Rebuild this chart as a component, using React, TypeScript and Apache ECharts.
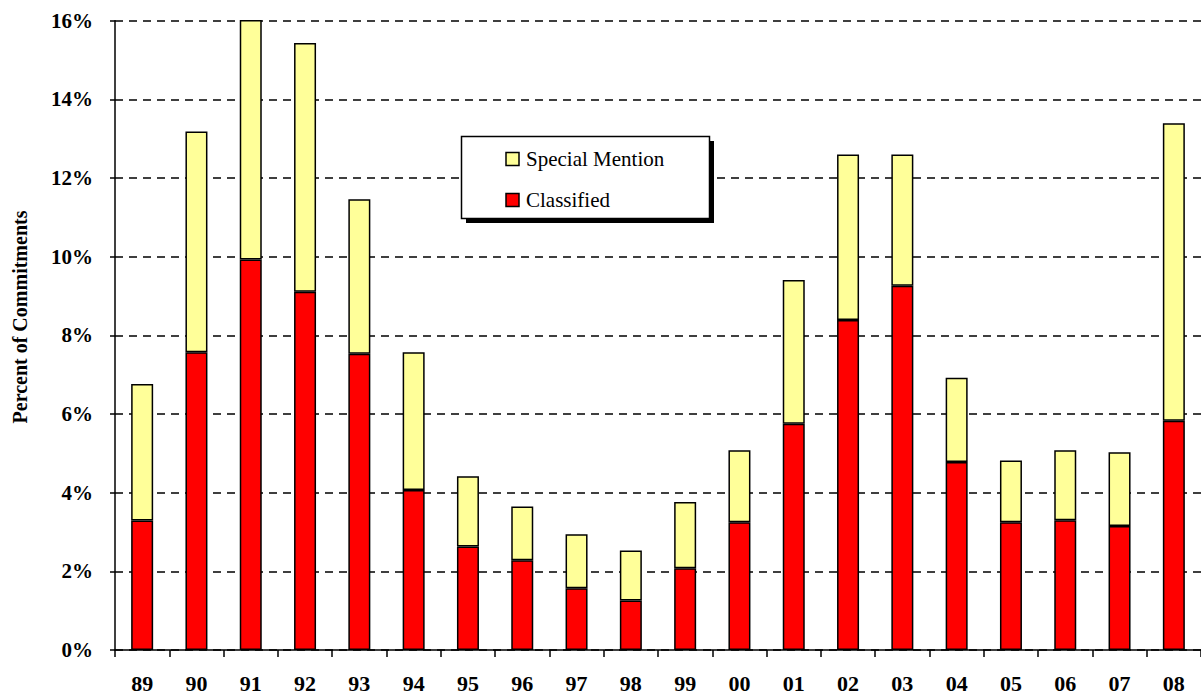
import React, { useEffect, useRef } from "react";
import * as echarts from "echarts";

const categories = ["89","90","91","92","93","94","95","96","97","98","99","00","01","02","03","04","05","06","07","08"];
const classified = [3.29,7.57,9.93,9.11,7.53,4.07,2.63,2.28,1.57,1.26,2.08,3.25,5.75,8.39,9.26,4.78,3.25,3.30,3.15,5.83];
const specialMention = [3.47,5.61,6.10,6.32,3.93,3.50,1.79,1.37,1.37,1.27,1.68,1.83,3.66,4.21,3.34,2.14,1.57,1.78,1.88,7.56];
const yTicks = [0, 2, 4, 6, 8, 10, 12, 14, 16];
const legendItems = ["Special Mention", "Classified"];

const FONT = "Liberation Serif";
const YELLOW = "#FFFF99";
const RED = "#FF0000";

export default function App() {
  const ref = useRef<HTMLDivElement>(null);
  useEffect(() => {
    document.body.style.margin = "0";
    if (!ref.current) return;
    const chart = echarts.init(ref.current, null, { renderer: "svg" });
    const colors = [YELLOW, RED];
    const legendGraphics: any[] = [
      { type: "rect", shape: { x: 466, y: 141, width: 248, height: 82 }, style: { fill: "#000" }, z: 100 },
      { type: "rect", shape: { x: 461.5, y: 136.5, width: 248, height: 82 }, style: { fill: "#fff", stroke: "#000", lineWidth: 1.5 }, z: 101 },
    ];
    legendItems.forEach((name, i) => {
      const cy = i === 0 ? 159 : 200;
      legendGraphics.push({
        type: "rect",
        shape: { x: 506, y: cy - 6.5, width: 13, height: 13 },
        style: { fill: colors[i], stroke: "#000", lineWidth: 1.5 },
        z: 102,
      });
      legendGraphics.push({
        type: "text",
        x: 526,
        y: cy,
        style: { text: name, fontFamily: FONT, fontSize: 21, fill: "#000", verticalAlign: "middle", align: "left" },
        z: 102,
      });
    });
    chart.setOption({
      animation: false,
      backgroundColor: "#fff",
      grid: { left: 115, top: 20.7, bottom: 48, right: -6, containLabel: false },
      xAxis: {
        type: "category",
        data: categories,
        axisLine: { lineStyle: { color: "#000", width: 1.5 } },
        axisTick: { show: true, length: 7, lineStyle: { color: "#000", width: 1.5 }, alignWithLabel: false },
        axisLabel: { color: "#000", fontFamily: FONT, fontWeight: "bold", fontSize: 22, margin: 22 },
      },
      yAxis: {
        type: "value",
        min: yTicks[0],
        max: yTicks[yTicks.length - 1],
        interval: 2,
        axisLine: { show: true, lineStyle: { color: "#000", width: 1.5 } },
        axisTick: { show: true, length: 5, lineStyle: { color: "#000", width: 1.5 } },
        axisLabel: { color: "#000", fontFamily: FONT, fontWeight: "bold", fontSize: 21, margin: 22, formatter: "{value}%" },
        splitLine: { show: true, lineStyle: { color: "#000", type: [8, 6], width: 1.5 } },
      },
      graphic: [
        {
          type: "text",
          x: 20,
          y: 317,
          rotation: Math.PI / 2,
          style: { text: "Percent of Commitments", fontFamily: FONT, fontWeight: "bold", fontSize: 20, fill: "#000", align: "center", verticalAlign: "middle" },
        },
        ...legendGraphics,
      ],
      series: [
        {
          name: "Classified",
          type: "bar",
          stack: "total",
          data: classified,
          barWidth: 22,
          itemStyle: { color: RED, borderColor: "#000", borderWidth: 1.5 },
        },
        {
          name: "Special Mention",
          type: "bar",
          stack: "total",
          data: specialMention,
          barWidth: 22,
          itemStyle: { color: YELLOW, borderColor: "#000", borderWidth: 1.5 },
        },
      ],
    });
    return () => chart.dispose();
  }, []);
  return <div ref={ref} style={{ width: 1201, height: 698 }} />;
}
